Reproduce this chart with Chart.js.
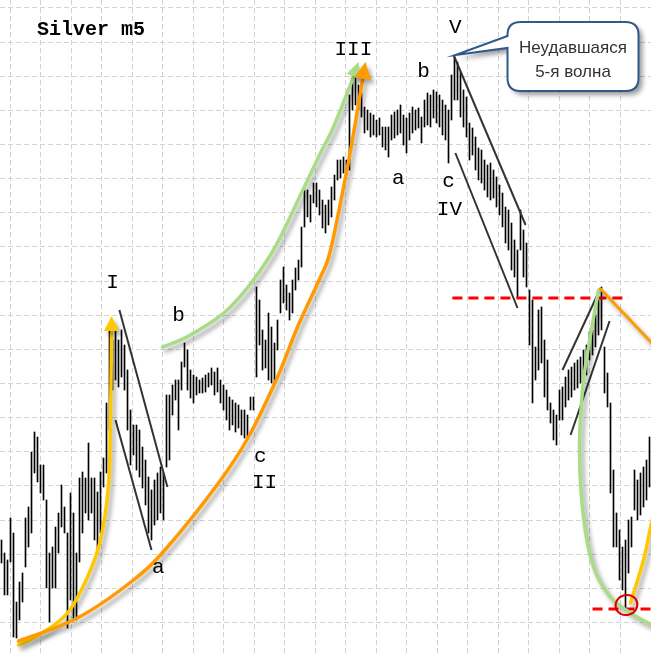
<!DOCTYPE html>
<html>
<head>
<meta charset="utf-8">
<script src="https://cdn.jsdelivr.net/npm/chart.js@4.4.1/dist/chart.umd.min.js"></script>
<style>
  body { margin: 0; background: #fff; }
  #wrap { width: 651px; height: 655px; }
</style>
</head>
<body>
<div id="wrap"><canvas id="silverChart" width="651" height="655"></canvas></div>
<script>
// price bars (high / low), one per bar index
var highs = [
  115,102,95,137,122,53,73,82,137,148,
  203,223,218,190,190,155,102,108,128,142,
  170,148,122,162,142,102,177,183,177,212,
  177,177,163,183,197,252,330,315,325,315,
  325,310,285,245,230,230,225,208,195,178,
  165,175,182,188,182,260,260,270,275,275,
  293,312,305,285,280,278,275,277,280,282,
  287,283,287,275,270,265,258,255,252,250,
  245,245,240,258,258,368,355,325,315,342,
  328,312,335,375,388,370,362,375,387,395,
  428,465,465,460,472,472,465,455,450,455,
  468,480,495,495,498,495,560,573,577,570,
  562,548,545,542,540,535,537,528,528,528,
  540,543,545,550,540,537,542,548,545,547,
  538,555,562,560,565,563,560,555,550,545,
  580,598,593,583,565,558,532,527,518,507,
  505,495,490,492,485,478,470,462,448,445,
  432,415,405,445,425,412,365,355,308,345,
  348,315,295,252,245,240,265,268,278,285,
  288,292,295,298,305,310,323,325,340,355,
  368,308,282,252,185,142,125,108,115,135,
  138,185,175,182,188,195,218
];
var lows = [
  92,60,60,93,18,17,35,53,88,108,
  122,182,173,162,155,67,33,67,67,102,
  128,122,27,55,35,35,93,122,142,135,
  142,115,102,122,168,182,225,265,275,268,
  278,265,225,190,200,185,178,167,150,122,
  115,130,135,142,135,188,195,240,255,225,
  265,288,265,257,252,260,262,262,263,268,
  270,260,263,252,245,235,225,230,223,227,
  220,217,217,245,245,278,310,285,287,275,
  272,272,305,342,352,345,335,342,365,375,
  388,428,438,433,452,448,440,427,422,430,
  438,455,475,477,482,480,485,545,550,545,
  538,522,525,518,520,518,520,508,505,498,
  515,517,520,522,510,502,515,522,525,527,
  512,528,530,528,537,532,528,520,515,492,
  535,555,555,538,528,518,495,500,485,475,
  472,465,458,455,457,448,440,428,412,405,
  385,378,357,405,378,368,310,252,275,285,
  292,258,245,232,215,210,235,235,248,255,
  258,265,267,272,275,280,295,300,308,320,
  325,262,248,162,108,108,75,65,45,82,
  108,145,135,140,148,155,168
];

// wave marks: text, bar index, price
var waveLabels = ['I', 'a', 'b', 'c', 'II', 'III', 'a', 'b', 'c', 'IV', 'V'];
var labelBars = [37, 52.3, 59, 86.3, 87.7, 117.3, 132.3, 140.7, 149, 149.3, 151.3];
var labelPrices = [367, 82, 334, 193, 167, 600, 471, 578, 468, 440, 622];

// channel lines: [bar1, price1, bar2, price2]
var trendLines = [
  [39.3, 345, 55.3, 168], [38, 235, 50, 105],
  [150.7, 600, 174.7, 430], [151.3, 502, 172, 347],
  [187, 285, 199.7, 367], [189.7, 220, 202.7, 334]
];
// red dashed levels: [fromBar, toBar, price]
var levels = [[150.3, 209, 357], [197, 216.7, 46]];
var lowMark = [208.3, 50];

// curves: [bar, price]
var yellowUp = [[5.67,10],[13,21],[22,42],[28.67,78],[33,115],[35.67,170],[36.33,235],[36.67,322]];
var yellowUpTip = [36.67, 339];
var orangeUp = [[5.67,14],[25.33,37],[44,75],[55.33,108],[72.33,172],[82.33,218],[92,278],[98.67,328],
                [106.33,378],[109.67,405],[115.33,488],[118.67,545],[120.33,575]];
var orangeUpTip = [121.33, 593];
var greenUp = [[53.67,308],[63,320],[76.33,348],[89.67,400],[99.67,460],[106.33,502],[110.67,528],[117.33,578]];
var greenUpTip = [119, 593];
var greenDown = [[199,365],[195.33,302],[193.67,265],[192.67,205],[194,138],[197.33,88],[203,58],[209.67,42],[216.67,30],[220,25]];
var yellowDown = [[209.67,52],[214,95],[216.67,132],[219,160]];
var orangeDown = [[199.7,366],[219,305]];

// callout near wave V
var calloutText = ['Неудавшаяся', '5-я волна'];
var calloutBox = [168.67, 633, 212.33, 564];
var calloutTail = [151.3, 600, 619, 607];

var bars = highs.map(function (h, i) { return { x: i, y: [lows[i], h] }; });

var markup = {
  id: 'waveMarkup',
  afterDatasetsDraw: function (chart) {
    var ctx = chart.ctx;
    var xs = chart.scales.x, ys = chart.scales.y;
    function P(b, p) { return { x: xs.getPixelForValue(b), y: ys.getPixelForValue(p) }; }
    function shadowOn() {
      ctx.shadowColor = 'rgba(0,0,0,0.35)';
      ctx.shadowBlur = 4;
      ctx.shadowOffsetX = 3;
      ctx.shadowOffsetY = 4;
    }
    function curve(list, color, width) {
      var pts = list.map(function (d) { return P(d[0], d[1]); });
      ctx.save();
      shadowOn();
      ctx.strokeStyle = color;
      ctx.lineWidth = width;
      ctx.lineCap = 'round';
      ctx.beginPath();
      ctx.moveTo(pts[0].x, pts[0].y);
      for (var i = 0; i < pts.length - 1; i++) {
        var p0 = pts[i - 1] || pts[i], p1 = pts[i], p2 = pts[i + 1], p3 = pts[i + 2] || p2;
        ctx.bezierCurveTo(p1.x + (p2.x - p0.x) / 6, p1.y + (p2.y - p0.y) / 6,
                          p2.x - (p3.x - p1.x) / 6, p2.y - (p3.y - p1.y) / 6, p2.x, p2.y);
      }
      ctx.stroke();
      ctx.restore();
    }
    function arrowHead(list, tip, color, size) {
      var from = P(list[list.length - 1][0], list[list.length - 1][1]);
      var t = P(tip[0], tip[1]);
      var a = Math.atan2(t.y - from.y, t.x - from.x);
      ctx.save();
      shadowOn();
      ctx.fillStyle = color;
      ctx.beginPath();
      ctx.moveTo(t.x, t.y);
      ctx.lineTo(t.x - size * Math.cos(a) + size * 0.5 * Math.sin(a), t.y - size * Math.sin(a) - size * 0.5 * Math.cos(a));
      ctx.lineTo(t.x - size * Math.cos(a) - size * 0.5 * Math.sin(a), t.y - size * Math.sin(a) + size * 0.5 * Math.cos(a));
      ctx.closePath();
      ctx.fill();
      ctx.restore();
    }

    // black channel lines
    ctx.save();
    ctx.strokeStyle = '#333';
    ctx.lineWidth = 2;
    trendLines.forEach(function (l) {
      var a = P(l[0], l[1]), b = P(l[2], l[3]);
      ctx.beginPath(); ctx.moveTo(a.x, a.y); ctx.lineTo(b.x, b.y); ctx.stroke();
    });
    // red levels
    ctx.strokeStyle = '#ff0000';
    ctx.lineWidth = 3;
    ctx.setLineDash([10, 6]);
    levels.forEach(function (l) {
      var a = P(l[0], l[2]), b = P(l[1], l[2]);
      ctx.beginPath(); ctx.moveTo(a.x, a.y); ctx.lineTo(b.x, b.y); ctx.stroke();
    });
    ctx.restore();

    curve(greenUp, '#a8dc86', 3.5);
    arrowHead(greenUp, greenUpTip, '#a8dc86', 15);
    curve(yellowUp, '#ffc800', 3.5);
    arrowHead(yellowUp, yellowUpTip, '#ffc800', 15);
    curve(orangeUp, '#ff9a00', 3.5);
    arrowHead(orangeUp, orangeUpTip, '#ff9a00', 17);
    curve(greenDown, '#a8dc86', 3.5);
    curve(yellowDown, '#ffc800', 3.5);
    curve(orangeDown, '#ff9a00', 3);

    // circle at the low
    var c = P(lowMark[0], lowMark[1]);
    ctx.save();
    ctx.strokeStyle = '#e00000';
    ctx.lineWidth = 2;
    ctx.beginPath();
    ctx.ellipse(c.x, c.y, 11, 10, -0.3, 0, Math.PI * 2);
    ctx.stroke();
    ctx.restore();

    // wave labels
    ctx.save();
    ctx.fillStyle = '#000';
    ctx.font = '21px "Liberation Mono", "Courier New", monospace';
    ctx.textAlign = 'center';
    ctx.textBaseline = 'alphabetic';
    waveLabels.forEach(function (t, i) {
      var p = P(labelBars[i], labelPrices[i]);
      ctx.fillText(t, p.x, p.y);
    });
    ctx.textAlign = 'left';
    ctx.font = 'bold 20px "Liberation Mono", "Courier New", monospace';
    ctx.fillText('Silver m5', chart.chartArea.left + 37, chart.chartArea.top + 35);
    ctx.restore();

    // callout
    var b1 = P(calloutBox[0], calloutBox[1]), b2 = P(calloutBox[2], calloutBox[3]);
    var tip = P(calloutTail[0], calloutTail[1]);
    var t1 = ys.getPixelForValue(calloutTail[2]), t2 = ys.getPixelForValue(calloutTail[3]);
    var r = 13;
    ctx.save();
    ctx.beginPath();
    ctx.moveTo(b1.x + r, b1.y);
    ctx.lineTo(b2.x - r, b1.y);
    ctx.quadraticCurveTo(b2.x, b1.y, b2.x, b1.y + r);
    ctx.lineTo(b2.x, b2.y - r);
    ctx.quadraticCurveTo(b2.x, b2.y, b2.x - r, b2.y);
    ctx.lineTo(b1.x + r, b2.y);
    ctx.quadraticCurveTo(b1.x, b2.y, b1.x, b2.y - r);
    ctx.lineTo(b1.x, t2);
    ctx.lineTo(tip.x, tip.y);
    ctx.lineTo(b1.x, t1);
    ctx.lineTo(b1.x, b1.y + r);
    ctx.quadraticCurveTo(b1.x, b1.y, b1.x + r, b1.y);
    ctx.closePath();
    ctx.shadowColor = 'rgba(0,0,0,0.4)';
    ctx.shadowBlur = 5;
    ctx.shadowOffsetX = 4;
    ctx.shadowOffsetY = 4;
    ctx.fillStyle = '#fff';
    ctx.fill();
    ctx.shadowColor = 'transparent';
    ctx.strokeStyle = '#2f5a8a';
    ctx.lineWidth = 2;
    ctx.stroke();
    ctx.fillStyle = '#333';
    ctx.font = '17px "Liberation Sans", Arial, sans-serif';
    ctx.textAlign = 'center';
    var cx = (b1.x + b2.x) / 2;
    ctx.fillText(calloutText[0], cx, b1.y + 31);
    ctx.fillText(calloutText[1], cx, b1.y + 55);
    ctx.restore();
  }
};

var gridLine = { color: '#d3d3d3', lineWidth: 1, drawTicks: false };

new Chart(document.getElementById('silverChart').getContext('2d'), {
  type: 'bar',
  data: {
    datasets: [{
      label: 'Silver m5',
      data: bars,
      backgroundColor: '#000',
      borderWidth: 0,
      barThickness: 1
    }]
  },
  options: {
    responsive: false,
    animation: false,
    layout: { padding: 0 },
    plugins: { legend: { display: false }, tooltip: { enabled: false }, title: { display: false } },
    scales: {
      x: { type: 'linear', min: -0.5, max: 216.5, offset: false, display: false },
      y: { type: 'linear', min: 0, max: 655, display: false },
      gx: {
        type: 'linear', position: 'bottom', min: -0.31, max: 19.97,
        ticks: { display: false, stepSize: 1, includeBounds: false },
        grid: gridLine, border: { display: false, dash: [5, 3] }
      },
      gy: {
        type: 'linear', position: 'left', reverse: true, min: -0.234, max: 18.95,
        ticks: { display: false, stepSize: 1, includeBounds: false },
        grid: gridLine, border: { display: false, dash: [5, 3] }
      }
    }
  },
  plugins: [markup]
});
</script>
</body>
</html>
